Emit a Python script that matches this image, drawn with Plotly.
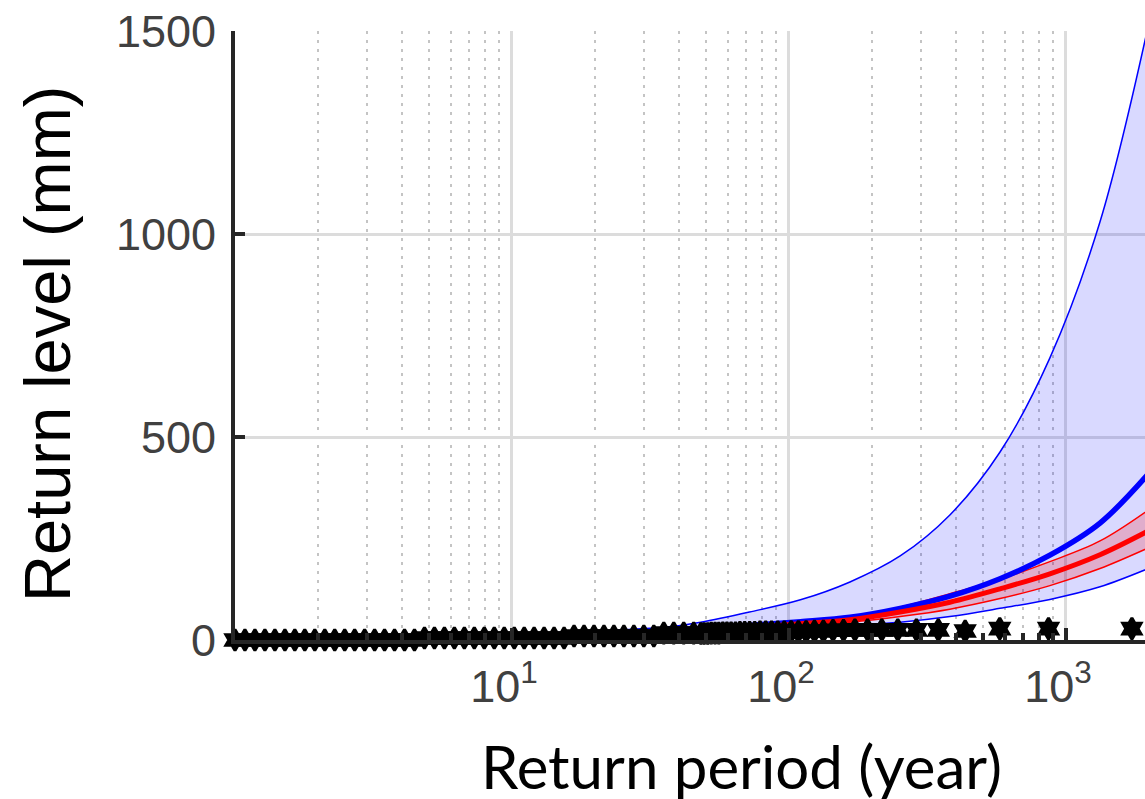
import plotly.graph_objects as go

# ---- return-level curves (x = return period in years, y = mm) ----
T_curve = [1, 2, 5, 10, 20, 36, 48, 72, 110, 166, 252, 381, 578, 875, 1327, 2000]
blue_upper = [1, 3, 8, 14, 22, 32, 44, 69, 99, 143, 207, 308, 463, 695, 1030, 1525]
blue_mid = [1, 2, 5, 9, 14, 20, 28, 36, 45, 56, 78, 108, 151, 209, 288, 412]
blue_lower = [0, 1, 3, 6, 10, 14, 18, 24, 30, 36, 44, 58, 78, 100, 131, 177]
red_mid = [1, 2, 5, 9, 13, 18, 24, 31, 40, 50, 69, 93, 126, 163, 210, 270]
red_upper = [1, 2, 5, 9, 14, 19, 25, 33, 43, 57, 81, 114, 150, 193, 244, 322]
red_lower = [0, 1, 4, 7, 11, 16, 21, 27, 35, 44, 58, 76, 102, 134, 176, 228]

# ---- observed points (empirical return periods) ----
obs_T = [1730, 865, 576.7, 432.5, 346, 288.3, 247.1, 216.3, 192.2, 173, 157.3, 144.2,
         133.1, 123.6, 115.3, 108.1, 101.8, 96.1, 91.1, 86.5, 82.4, 78.6, 75.2, 72.1,
         69.2, 66.5, 64.1, 61.8, 59.7, 57.7, 55.8, 54.1, 52.4, 50.9, 49.4, 48.1,
         45.29, 41.69, 38.37, 35.32, 32.51, 29.92, 27.54, 25.35, 23.33, 21.48, 19.77,
         18.20, 16.75, 15.42, 14.19, 13.06, 12.02, 11.07, 10.19, 9.376, 8.630, 7.943,
         7.311, 6.730, 6.194, 5.702, 5.248, 4.831, 4.446, 4.093, 3.767, 3.467, 3.192,
         2.938, 2.704, 2.489, 2.291, 2.109, 1.941, 1.786, 1.644, 1.514, 1.393, 1.282,
         1.180, 1.086, 1.0]
obs_val = [28, 28, 28, 22, 25, 25, 25, 25, 25, 25, 24, 24,
           22, 22, 21, 21, 21, 20, 20, 20, 20, 20, 19, 19,
           19, 19, 18, 18, 18, 18, 17, 17, 17, 16, 16, 16,
           17, 17, 17, 17, 10, 10, 10, 10, 10, 10, 10,
           10, 10, 5, 5, 5, 5, 5, 5, 5, 5, 5,
           5, 5, 5, 5, 5, 5, 0, 0, 0, 0, 0,
           0, 0, 0, 0, 0, 0, 0, 0, 0, 0, 0,
           0, 0, 0]

x_major = [10, 100, 1000]
x_major_text = ["10<sup>1</sup>", "10<sup>2</sup>", "10<sup>3</sup>"]
x_minor = [2, 3, 4, 5, 6, 7, 8, 9, 20, 30, 40, 50, 60, 70, 80, 90,
           200, 300, 400, 500, 600, 700, 800, 900, 2000]
y_ticks = [0, 500, 1000, 1500]

BLUE = "#0000ff"
RED = "#ff0000"

fig = go.Figure()
fig.add_trace(go.Scatter(x=T_curve, y=blue_lower, mode="lines", line=dict(color=BLUE, width=1.5, shape="spline"),
                         showlegend=False))
fig.add_trace(go.Scatter(x=T_curve, y=blue_upper, mode="lines", line=dict(color=BLUE, width=1.5, shape="spline"),
                         fill="tonexty", fillcolor="rgba(0,0,255,0.15)", showlegend=False))
fig.add_trace(go.Scatter(x=T_curve, y=red_lower, mode="lines", line=dict(color=RED, width=1.5, shape="spline"),
                         showlegend=False))
fig.add_trace(go.Scatter(x=T_curve, y=red_upper, mode="lines", line=dict(color=RED, width=1.5, shape="spline"),
                         fill="tonexty", fillcolor="rgba(255,0,0,0.2)", showlegend=False))
fig.add_trace(go.Scatter(x=T_curve, y=blue_mid, mode="lines", line=dict(color=BLUE, width=5.5, shape="spline"),
                         showlegend=False))
fig.add_trace(go.Scatter(x=T_curve, y=red_mid, mode="lines", line=dict(color=RED, width=5, shape="spline"),
                         showlegend=False))
fig.add_trace(go.Scatter(x=obs_T, y=obs_val, mode="markers",
                         marker=dict(symbol="hexagram", size=16, color="black", line=dict(color="black", width=3)),
                         cliponaxis=False, showlegend=False))

AX = "#262626"
fig.update_layout(
    width=1145, height=799,
    margin=dict(l=235, r=0, t=31, b=159),
    paper_bgcolor="white", plot_bgcolor="white",
    xaxis=dict(
        type="log", range=[0, 3.2853],
        tickvals=x_major, ticktext=x_major_text,
        ticks="inside", ticklen=12, tickwidth=4, tickcolor=AX,
        showline=True, linecolor=AX, linewidth=4,
        showgrid=True, gridcolor="#dcdcdc", gridwidth=3,
        zeroline=False,
        tickfont=dict(family="Liberation Sans, Arial", size=45, color="#404040"),
        ticklabelstandoff=4, ticklabelshift=-8,
        minor=dict(tickvals=x_minor, ticks="inside", ticklen=7, tickwidth=4, tickcolor=AX,
                   showgrid=True, gridcolor="#c4c4c4", gridwidth=2, griddash="3px,6px"),
    ),
    yaxis=dict(
        range=[0, 1500], tickvals=y_ticks,
        ticks="inside", ticklen=10, tickwidth=4, tickcolor=AX,
        showline=True, linecolor=AX, linewidth=4,
        showgrid=True, gridcolor="#dcdcdc", gridwidth=3,
        zeroline=False,
        tickfont=dict(family="Liberation Sans, Arial", size=45, color="#404040"),
        ticklabelstandoff=6,
    ),
    annotations=[
        dict(text="Return period (year)", xref="paper", yref="paper",
             x=(741 - 235) / 910, y=(640 - 766) / 609, xanchor="center", yanchor="middle",
             showarrow=False, font=dict(family="Lato", size=60, color="black")),
        dict(text="Return level (mm)", xref="paper", yref="paper",
             x=(48 - 235) / 910, y=(640 - 344) / 609, xanchor="center", yanchor="middle",
             textangle=-90, showarrow=False,
             font=dict(family="Liberation Sans, Arial", size=65, color="black")),
    ],
)

fig.write_html("out.html")
